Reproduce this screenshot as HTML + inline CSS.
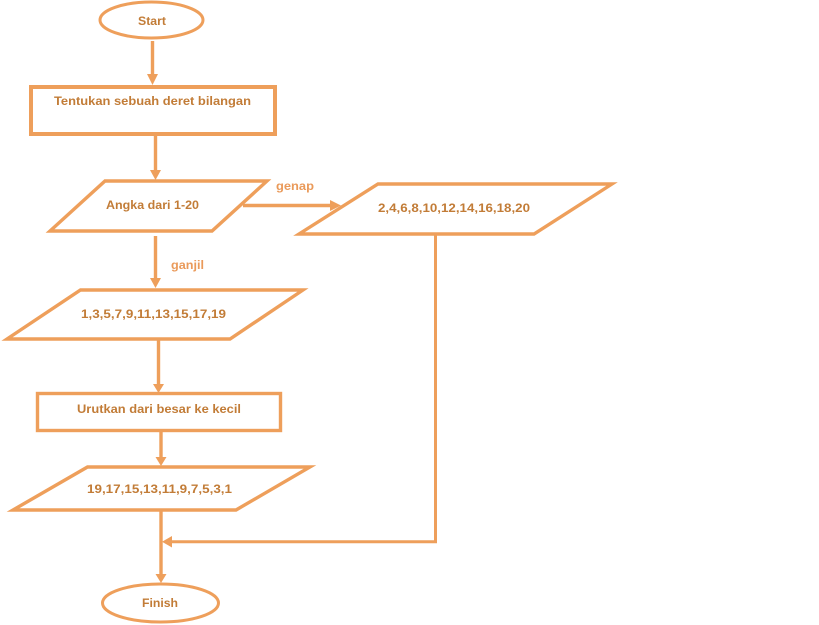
<!DOCTYPE html>
<html>
<head>
<meta charset="utf-8">
<style>
html,body{margin:0;padding:0;background:#fff;width:819px;height:625px;overflow:hidden}
svg{display:block}
text{font-family:"Liberation Sans",sans-serif;font-weight:bold;font-size:12px;fill:#c27c37}
text.l{fill:#ea9a5a}
.s{fill:none;stroke:#ee9f5b;stroke-linejoin:miter}
.a{fill:#ee9f5b;stroke:none}
</style>
</head>
<body>
<svg width="819" height="625" viewBox="0 0 819 625" xmlns="http://www.w3.org/2000/svg">
<rect width="819" height="625" fill="#fff"/>
<!-- shapes -->
<ellipse class="s" stroke-width="3" cx="151.5" cy="20" rx="51.5" ry="18"/>
<rect class="s" stroke-width="4" x="31" y="87" width="244" height="47"/>
<polygon class="s" stroke-width="3.4" points="105,181 267,181 212,231 50,231"/>
<polygon class="s" stroke-width="3.4" points="378,184 612,184 534,234 299,234"/>
<polygon class="s" stroke-width="3.4" points="80.5,290 303,290 230,339 7,339"/>
<rect class="s" stroke-width="3.4" x="37.5" y="393.5" width="243" height="37"/>
<polygon class="s" stroke-width="3.4" points="87.5,467 310,467 236,510 13,510"/>
<ellipse class="s" stroke-width="3" cx="160.5" cy="603" rx="58" ry="19"/>
<!-- connectors -->
<path class="s" stroke-width="3.4" d="M152.5 41V76"/>
<polygon class="a" points="147,74 158,74 152.5,85"/>
<path class="s" stroke-width="3.4" d="M155.5 136V171"/>
<polygon class="a" points="150,170 161,170 155.5,180"/>
<path class="s" stroke-width="3.4" d="M243 205.5H332"/>
<polygon class="a" points="330,200 330,211 341,205.5"/>
<path class="s" stroke-width="3.4" d="M155.5 236V280"/>
<polygon class="a" points="150,278 161,278 155.5,288"/>
<path class="s" stroke-width="3.4" d="M158.5 340V384"/>
<polygon class="a" points="153,384 164,384 158.5,393"/>
<path class="s" stroke-width="3.4" d="M161 431V459"/>
<polygon class="a" points="155.5,457 166.5,457 161,466"/>
<path class="s" stroke-width="3.4" d="M161 511V575"/>
<polygon class="a" points="155.5,574 166.5,574 161,583"/>
<path class="s" stroke-width="3" d="M435.5 235V541.7H170"/>
<polygon class="a" points="172,536 172,547.5 162,541.7"/>
<!-- labels -->
<text x="138" y="25" textLength="28" lengthAdjust="spacingAndGlyphs">Start</text>
<text x="54" y="105" textLength="197" lengthAdjust="spacingAndGlyphs">Tentukan sebuah deret bilangan</text>
<text x="106" y="209" textLength="93" lengthAdjust="spacingAndGlyphs">Angka dari 1-20</text>
<text class="l" x="276" y="190" textLength="38" lengthAdjust="spacingAndGlyphs">genap</text>
<text x="378" y="212" textLength="152" lengthAdjust="spacingAndGlyphs">2,4,6,8,10,12,14,16,18,20</text>
<text class="l" x="171" y="269" textLength="33" lengthAdjust="spacingAndGlyphs">ganjil</text>
<text x="81" y="318" textLength="145" lengthAdjust="spacingAndGlyphs">1,3,5,7,9,11,13,15,17,19</text>
<text x="77" y="413" textLength="164" lengthAdjust="spacingAndGlyphs">Urutkan dari besar ke kecil</text>
<text x="87" y="493" textLength="145" lengthAdjust="spacingAndGlyphs">19,17,15,13,11,9,7,5,3,1</text>
<text x="142" y="607" textLength="36" lengthAdjust="spacingAndGlyphs">Finish</text>
</svg>
</body>
</html>
